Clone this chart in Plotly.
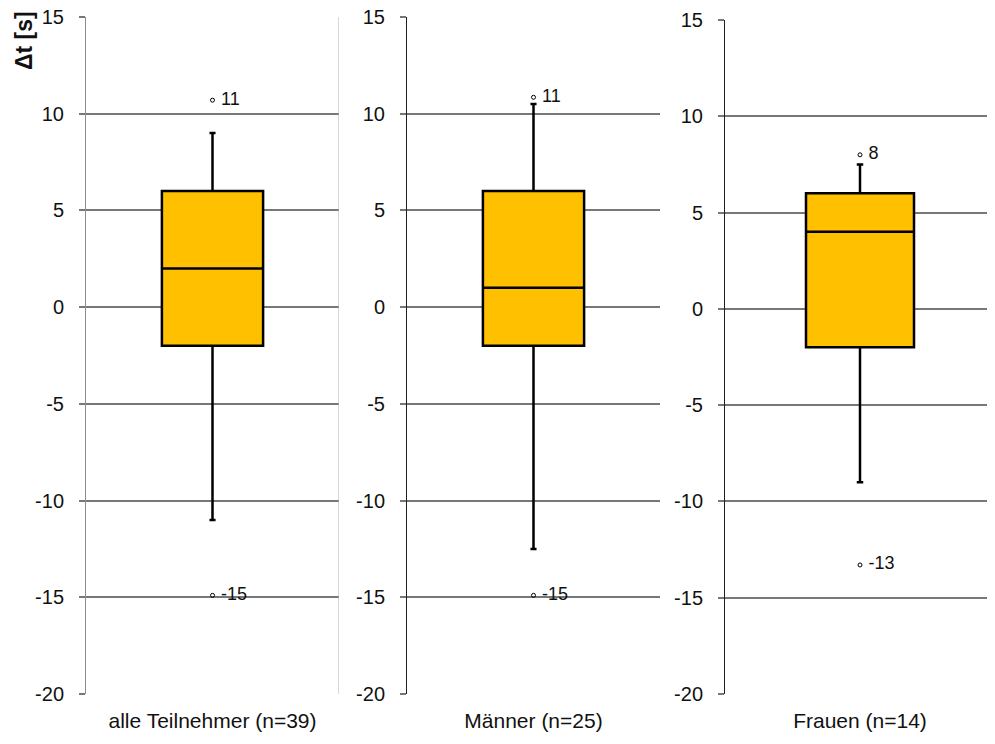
import plotly.graph_objects as go

categories = ["alle Teilnehmer (n=39)", "Männer (n=25)", "Frauen (n=14)"]
q1 = [-2, -2, -2]
median = [2, 1, 4]
q3 = [6, 6, 6]
lowerfence = [-11, -12.5, -9]
upperfence = [9, 10.5, 7.5]
outlier_values = [[10.7, -14.9], [10.85, -14.9], [8.0, -13.3]]
outlier_labels = [["11", "-15"], ["11", "-15"], ["8", "-13"]]
y_ticks = [-20, -15, -10, -5, 0, 5, 10, 15]

OFF = 8  # page body margin
W, H = 995 - OFF, 744 - OFF
x_dom_px = [(86, 339), (407, 660), (725, 995)]
y_dom_px = [(17, 694), (17, 694), (20, 694)]
spine_colors = ["#8c8c8c", "#202020", "#202020"]

fig = go.Figure()
font = "Liberation Sans, Arial, sans-serif"

for i, cat in enumerate(categories):
    ax = "" if i == 0 else str(i + 1)
    fig.add_trace(go.Box(
        x=[cat], q1=[q1[i]], median=[median[i]], q3=[q3[i]],
        lowerfence=[lowerfence[i]], upperfence=[upperfence[i]],
        fillcolor="#FFC000", line=dict(color="black", width=2.5),
        whiskerwidth=0.06, width=0.4, boxpoints=False,
        xaxis="x" + ax, yaxis="y" + ax, showlegend=False, hoverinfo="skip",
    ))
    fig.add_trace(go.Scatter(
        x=[cat] * len(outlier_values[i]), y=outlier_values[i],
        mode="markers+text", text=[" " + t for t in outlier_labels[i]],
        textposition="middle right",
        textfont=dict(family=font, size=18, color="#111"),
        marker=dict(symbol="circle-open", size=4, color="black", line=dict(width=1)),
        xaxis="x" + ax, yaxis="y" + ax, showlegend=False, hoverinfo="skip",
    ))
    x0, x1 = (v - OFF for v in x_dom_px[i])
    yt, yb = (v - OFF for v in y_dom_px[i])
    fig.layout["xaxis" + ax] = dict(
        domain=[x0 / W, min(x1 / W, 1)], anchor="y" + ax, type="category",
        showgrid=False, showline=False, side="bottom", automargin=False,
        ticks="", range=[-0.5, 0.5], ticklabelstandoff=12,
        tickfont=dict(family=font, size=21, color="#111"), zeroline=False,
        fixedrange=True, ticklabeloverflow="allow",
    )
    fig.layout["yaxis" + ax] = dict(
        domain=[(H - yb) / H, (H - yt) / H], anchor="x" + ax, automargin=False,
        range=[-20, 15], tickvals=y_ticks, ticktext=[str(v) for v in y_ticks],
        showgrid=True, gridcolor="#777777", gridwidth=1.5,
        showline=True, linecolor=spine_colors[i], linewidth=1,
        ticks="outside", ticklen=6, tickcolor="#777777", tickwidth=1.5,
        ticklabelstandoff=11, ticklabeloverflow="allow",
        tickfont=dict(family=font, size=20, color="#111"), zeroline=False,
        fixedrange=True,
    )

# right border of first panel
fig.add_shape(type="line", xref="x", yref="paper", x0=0.5, x1=0.5,
              y0=(H - (694 - OFF)) / H, y1=(H - (17 - OFF)) / H,
              line=dict(color="#b0b0b0", width=1))

fig.add_annotation(text="<b>Δt [s]</b>", xref="paper", yref="paper",
                   x=(24 - OFF) / W, y=(H - (41 - OFF)) / H, textangle=-90,
                   showarrow=False,
                   font=dict(family=font, size=23, color="#111"),
                   xanchor="center", yanchor="middle")

fig.update_layout(width=W, height=H, margin=dict(l=0, r=0, t=0, b=0, autoexpand=False),
                  paper_bgcolor="white", plot_bgcolor="white")
fig.write_html("out.html")
